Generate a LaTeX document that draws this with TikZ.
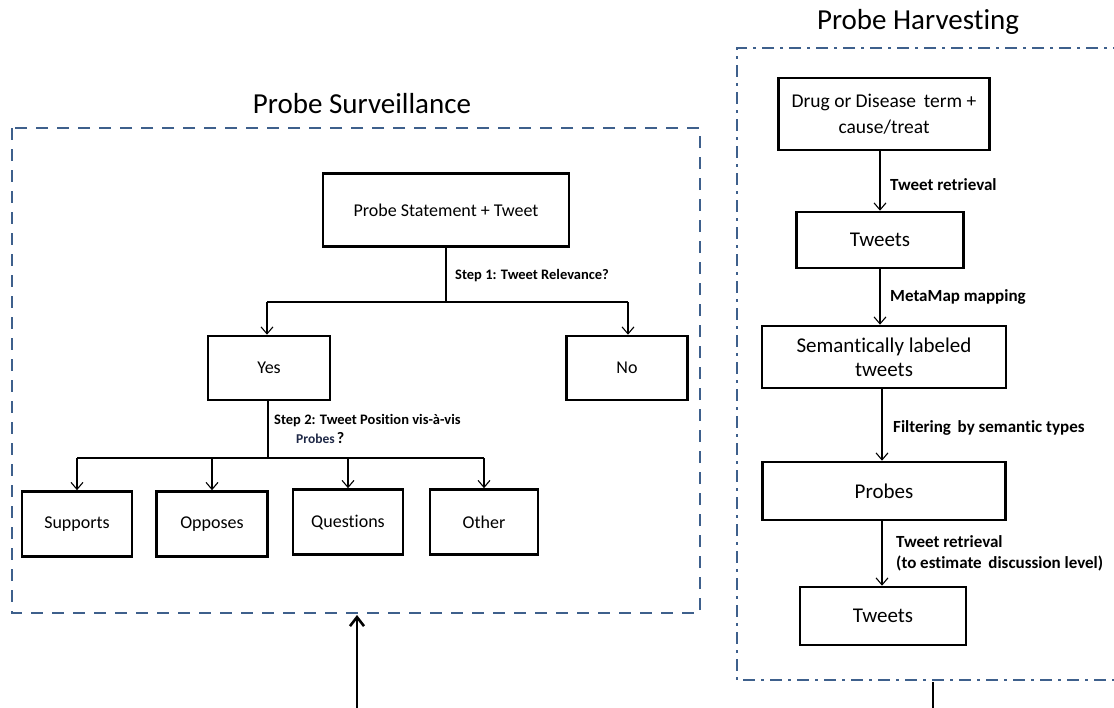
\documentclass[tikz,border=0pt]{standalone}
\usepackage{fontspec}
\setmainfont{Carlito}[Ligatures=NoCommon]
\usetikzlibrary{arrows.meta}
\definecolor{frameblue}{RGB}{62,96,140}
\definecolor{probetxt}{RGB}{30,40,70}
\begin{document}
\begin{tikzpicture}[x=1pt,y=-1pt,
  box/.style={draw=black,line width=2.6pt,fill=white,align=center,inner sep=2pt},
  lbox/.style={box,font=\fontsize{18}{21}\selectfont},
  rbox/.style={box,font=\fontsize{21}{24}\selectfont},
  conn/.style={line width=1.1pt,-{Straight Barb[length=7pt,width=12pt,line width=1.1pt]}},
  line/.style={line width=1.1pt},
  lbl/.style={font=\fontsize{14.5}{17}\selectfont\bfseries,anchor=west,align=left,inner sep=0pt},
  rlbl/.style={font=\fontsize{17}{21}\selectfont\bfseries,anchor=west,align=left,inner sep=0pt},
  title/.style={font=\fontsize{29}{32}\selectfont},
  bigarrow/.style={line width=2.6pt,-{Straight Barb[length=9pt,width=14pt,line width=2.6pt]}}
]
\useasboundingbox (0,0) rectangle (1114,707);
% frames
\draw[frameblue,line width=2.8pt,dash pattern=on 12pt off 9pt] (12,128) rectangle (700,613);
\draw[frameblue,line width=2.8pt,dash pattern=on 12pt off 6pt on 3pt off 6pt] (1125,48) -- (737,48) -- (737,680) -- (1125,680);
\node[title] (t1) at (362,104) {Probe Surveillance};
\node[title] (t2) at (918,22) {Probe Harvesting};

% left tree
\node[lbox,minimum width=246pt,minimum height=73pt] (pst) at (446,210) {Probe Statement + Tweet};
\node[lbox,minimum width=122pt,minimum height=64pt] (yes) at (269,368) {Yes};
\node[lbox,minimum width=121pt,minimum height=64pt] (no) at (627,368) {No};
\node[lbox,minimum width=110pt,minimum height=65pt] (sup) at (77,524) {Supports};
\node[lbox,minimum width=111pt,minimum height=65pt] (opp) at (212,524) {Opposes};
\node[lbox,minimum width=110pt,minimum height=65pt] (que) at (348,522) {Questions};
\node[lbox,minimum width=108pt,minimum height=65pt] (oth) at (484,522) {Other};

\coordinate (s1) at (446,302);
\coordinate (s1l) at (267,302);
\coordinate (s1r) at (628,302);
\draw[line] (pst.south) -- (s1);
\draw[line] (s1l) -- (s1r);
\draw[conn] (s1l) -- (s1l |- yes.north);
\draw[conn] (s1r) -- (s1r |- no.north);
\node[lbl] (l1) at (455,276) {Step 1: Tweet Relevance?};

\coordinate (s2) at (268,458);
\coordinate (s2l) at (77,458);
\coordinate (s2r) at (484,458);
\draw[line] (yes.south -| s2) -- (s2);
\draw[line] (s2l) -- (s2r);
\draw[conn] (s2l) -- (sup.north);
\draw[conn] (212,458) -- (opp.north);
\draw[conn] (348,458) -- (que.north);
\draw[conn] (s2r) -- (oth.north);
\node[lbl] (l2) at (274,421) {Step 2: Tweet Position vis-à-vis};
\node[lbl,font=\fontsize{13.5}{15}\selectfont\bfseries] (l2b) at (296,438) {{\color{probetxt}Probes}\,{\fontsize{16}{17}\selectfont ?}};

% right chain
\node[rbox,font=\fontsize{19.5}{26}\selectfont,minimum width=211pt,minimum height=72pt] (drug) at (884,114) {Drug or Disease\, term +\\cause/treat};
\node[rbox,minimum width=167pt,minimum height=56pt] (tw1) at (880,240) {Tweets};
\node[rbox,minimum width=244pt,minimum height=62pt] (sem) at (884,357) {Semantically labeled\\tweets};
\node[rbox,minimum width=243pt,minimum height=58pt] (prb) at (884,491) {Probes};
\node[rbox,minimum width=166pt,minimum height=58pt] (tw2) at (883,616) {Tweets};

\draw[conn] (drug.south -| 880,0) -- (tw1.north -| 880,0);
\draw[conn] (tw1.south -| 880,0) -- (sem.north -| 880,0);
\draw[conn] (sem.south -| 882,0) -- (prb.north -| 882,0);
\draw[conn] (prb.south -| 882,0) -- (tw2.north -| 882,0);
\node[rlbl] (r1) at (890,185) {Tweet retrieval};
\node[rlbl] (r2) at (890,297) {MetaMap mapping};
\node[rlbl] (r3) at (893,428) {Filtering\, by semantic types};
\node[rlbl] (r4) at (896,553) {Tweet retrieval\\(to estimate\, discussion level)};

% inter-panel arrows
\coordinate (b1) at (357,712);
\coordinate (b1t) at (357,615);
\draw[bigarrow] (b1) -- (b1t);
\coordinate (b2) at (933,682);
\coordinate (b2b) at (933,712);
\draw[line width=2.6pt] (b2) -- (b2b);
\end{tikzpicture}
\end{document}
